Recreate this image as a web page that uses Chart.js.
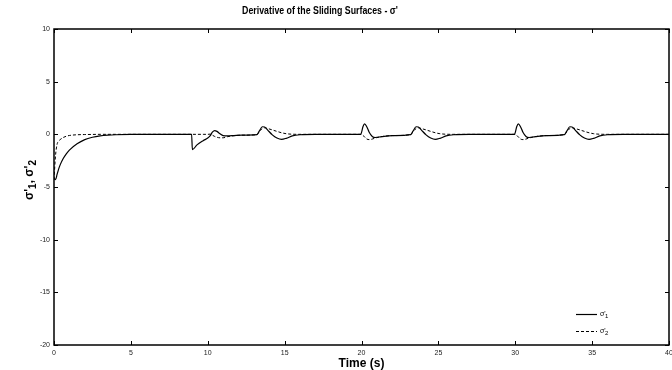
<!DOCTYPE html>
<html>
<head>
<meta charset="utf-8">
<title>Derivative of the Sliding Surfaces</title>
<script src="https://cdn.jsdelivr.net/npm/chart.js@4.4.1/dist/chart.umd.min.js"></script>
<style>
    html, body { margin: 0; padding: 0; background: #fff; }
    #wrap { width: 672px; height: 370px; }
</style>
</head>
<body>
<div id="wrap"><canvas id="sigmaChart" width="672" height="370"></canvas></div>
<script>
// ============================================
// DATA
// ============================================
const timeS = [
    0, 0.1, 0.2, 0.3, 0.4, 0.6, 0.8, 1.0, 1.5, 2.0, 2.5, 3.0, 3.5, 4.0, 5.0,
    8.95, 9.0, 9.3, 9.7, 10.0, 10.15, 10.3, 10.45, 10.6, 10.8, 11.0, 11.3, 11.7, 12.2,
    13.2, 13.35, 13.55, 13.7, 13.9, 14.2, 14.5, 14.8, 15.1, 15.5, 16.0, 17.0,
    19.95, 20.1, 20.2, 20.35, 20.5, 20.7, 20.9, 21.3, 22.0, 23.2,
    23.35, 23.55, 23.7, 23.9, 24.2, 24.5, 24.8, 25.1, 25.5, 26.0, 27.0,
    29.95, 30.1, 30.2, 30.35, 30.5, 30.7, 30.9, 31.3, 32.0, 33.2,
    33.35, 33.55, 33.7, 33.9, 34.2, 34.5, 34.8, 35.1, 35.5, 36.0, 37.0,
    40
];

const sigma1 = [
    -4.2, -4.3, -3.8, -3.3, -2.9, -2.3, -1.85, -1.5, -0.9, -0.5, -0.28, -0.15, -0.08, -0.04, -0.01,
    0, -1.45, -1.0, -0.6, -0.35, -0.15, 0.2, 0.36, 0.28, 0.05, -0.12, -0.15, -0.12, -0.08,
    -0.03, 0.3, 0.72, 0.7, 0.4, -0.05, -0.35, -0.48, -0.38, -0.15, -0.04, 0,
    0, 0.75, 1.0, 0.7, 0.2, -0.2, -0.3, -0.22, -0.12, -0.03,
    0.3, 0.72, 0.7, 0.4, -0.05, -0.35, -0.48, -0.38, -0.15, -0.04, 0,
    0, 0.75, 1.0, 0.7, 0.2, -0.2, -0.3, -0.22, -0.12, -0.03,
    0.3, 0.72, 0.7, 0.4, -0.05, -0.35, -0.48, -0.38, -0.15, -0.04, 0,
    0
];

const sigma2 = [
    -4.3, -2.0, -0.95, -0.65, -0.5, -0.3, -0.18, -0.11, -0.04, -0.02, -0.01, 0, 0, 0, 0,
    0, 0, 0, 0, 0, 0.02, -0.08, -0.2, -0.28, -0.33, -0.33, -0.22, -0.13, -0.08,
    -0.03, 0.25, 0.55, 0.62, 0.55, 0.42, 0.28, 0.15, 0.06, 0.01, 0, 0,
    0, -0.1, -0.25, -0.45, -0.5, -0.45, -0.35, -0.22, -0.12, -0.03,
    0.25, 0.55, 0.62, 0.55, 0.42, 0.28, 0.15, 0.06, 0.01, 0, 0,
    0, -0.1, -0.25, -0.45, -0.5, -0.45, -0.35, -0.22, -0.12, -0.03,
    0.25, 0.55, 0.62, 0.55, 0.42, 0.28, 0.15, 0.06, 0.01, 0, 0,
    0
];

const xTicks = [0, 5, 10, 15, 20, 25, 30, 35, 40];
const yTicks = [-20, -15, -10, -5, 0, 5, 10];

const FONT = '"Liberation Sans", Arial, sans-serif';

function toPoints(values) {
    return timeS.map((t, i) => ({ x: t, y: values[i] }));
}

// ============================================
// FRAME, INWARD TICKS, TITLES AND LEGEND
// ============================================
const framePlugin = {
    id: 'matlabFrame',
    afterDraw(chart) {
        const ctx = chart.ctx;
        const a = chart.chartArea;
        const xs = chart.scales.x;
        const ys = chart.scales.y;
        const tl = 4;

        ctx.save();
        ctx.strokeStyle = '#000';
        ctx.lineWidth = 1.5;
        ctx.strokeRect(a.left, a.top, a.right - a.left, a.bottom - a.top);

        ctx.lineWidth = 1;
        ctx.beginPath();
        xTicks.forEach(v => {
            const px = Math.round(xs.getPixelForValue(v)) + 0.5;
            ctx.moveTo(px, a.bottom); ctx.lineTo(px, a.bottom - tl);
            ctx.moveTo(px, a.top); ctx.lineTo(px, a.top + tl);
        });
        yTicks.forEach(v => {
            const py = Math.round(ys.getPixelForValue(v)) + 0.5;
            ctx.moveTo(a.left, py); ctx.lineTo(a.left + tl, py);
            ctx.moveTo(a.right, py); ctx.lineTo(a.right - tl, py);
        });
        ctx.stroke();

        // title, condensed like the original Helvetica rendering
        ctx.save();
        ctx.fillStyle = '#000';
        ctx.textAlign = 'center';
        ctx.textBaseline = 'middle';
        ctx.font = 'bold 11px ' + FONT;
        ctx.translate(320, 11);
        ctx.scale(0.8, 1);
        ctx.fillText("Derivative of the Sliding Surfaces - \u03c3'", 0, 0);
        ctx.restore();

        // y axis label with subscripts
        ctx.save();
        ctx.fillStyle = '#000';
        ctx.translate(29, 180);
        ctx.rotate(-Math.PI / 2);
        ctx.textAlign = 'left';
        ctx.textBaseline = 'alphabetic';
        const parts = [
            { t: "\u03c3'", size: 12, dy: 0 },
            { t: '1', size: 10, dy: 3 },
            { t: ", \u03c3'", size: 12, dy: 0 },
            { t: '2', size: 10, dy: 3 }
        ];
        let w = 0;
        parts.forEach(p => { ctx.font = 'bold ' + p.size + 'px ' + FONT; w += ctx.measureText(p.t).width; });
        let x = -w / 2;
        parts.forEach(p => {
            ctx.font = 'bold ' + p.size + 'px ' + FONT;
            ctx.fillText(p.t, x, 4 + p.dy);
            x += ctx.measureText(p.t).width;
        });
        ctx.restore();

        // legend
        ctx.fillStyle = '#000';
        chart.data.datasets.forEach((ds, i) => {
            const y = 314 + i * 17;
            ctx.beginPath();
            ctx.lineWidth = ds.borderWidth;
            ctx.setLineDash(ds.borderDash || []);
            ctx.moveTo(576, y + 0.5);
            ctx.lineTo(597, y + 0.5);
            ctx.stroke();
            ctx.setLineDash([]);
            ctx.textAlign = 'left';
            ctx.textBaseline = 'middle';
            ctx.font = '7px ' + FONT;
            ctx.fillText("\u03c3'", 600, y);
            ctx.font = '6px ' + FONT;
            ctx.fillText(String(i + 1), 605, y + 2);
        });
        ctx.restore();
    }
};

// ============================================
// CHART
// ============================================
function buildChart() {
    const ctx = document.getElementById('sigmaChart').getContext('2d');
    return new Chart(ctx, {
        type: 'scatter',
        data: {
            datasets: [
                {
                    label: "\u03c3'1",
                    data: toPoints(sigma1),
                    showLine: true,
                    borderColor: '#000',
                    borderWidth: 1.2,
                    pointRadius: 0,
                    cubicInterpolationMode: 'monotone'
                },
                {
                    label: "\u03c3'2",
                    data: toPoints(sigma2),
                    showLine: true,
                    borderColor: '#000',
                    borderWidth: 1,
                    borderDash: [3, 2],
                    pointRadius: 0,
                    cubicInterpolationMode: 'monotone'
                }
            ]
        },
        options: {
            responsive: false,
            animation: false,
            layout: { padding: { top: 29, right: 3, left: 0, bottom: 0 } },
            plugins: {
                legend: { display: false },
                tooltip: { enabled: false }
            },
            scales: {
                x: {
                    type: 'linear',
                    min: 0,
                    max: 40,
                    afterBuildTicks: s => { s.ticks = xTicks.map(v => ({ value: v })); },
                    afterFit: s => { s.height = 25; s.paddingLeft = 0; s.paddingRight = 0; },
                    grid: { display: false, drawTicks: false },
                    border: { display: false },
                    ticks: { color: '#222', font: { family: FONT, size: 7 }, padding: 4, maxRotation: 0 },
                    title: {
                        display: true,
                        text: 'Time (s)',
                        color: '#000',
                        font: { family: FONT, size: 12, weight: 'bold' },
                        padding: { top: 0, bottom: -1 }
                    }
                },
                y: {
                    min: -20,
                    max: 10,
                    afterBuildTicks: s => { s.ticks = yTicks.map(v => ({ value: v })); },
                    afterFit: s => { s.width = 54; s.paddingTop = 0; s.paddingBottom = 0; },
                    grid: { display: false, drawTicks: false },
                    border: { display: false },
                    ticks: { color: '#222', font: { family: FONT, size: 7 }, padding: 4 }
                }
            }
        },
        plugins: [framePlugin]
    });
}

document.addEventListener('DOMContentLoaded', buildChart);
</script>
</body>
</html>
